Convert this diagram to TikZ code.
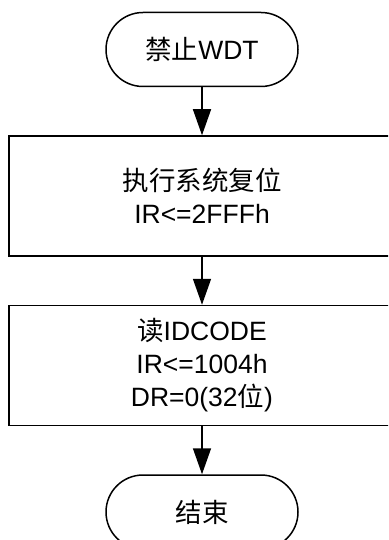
\documentclass[tikz,border=0pt]{standalone}
\usepackage{fontspec}
\setmainfont{Liberation Sans}
\newfontfamily\cjk{Noto Sans CJK SC}
\usepackage{tikz}
\usetikzlibrary{arrows.meta,positioning}

\begin{document}
\begin{tikzpicture}[
        x=1pt, y=1pt,
        node distance=48pt,
        terminal/.style={rectangle, draw, fill=white, rounded corners=37pt, minimum width=192pt, minimum height=74pt, line width=1.5pt, align=center, font=\fontsize{26.5}{33}\selectfont},
        process/.style={rectangle, draw, fill=white, minimum width=386pt, minimum height=120pt, line width=1.5pt, align=center, font=\fontsize{26.5}{33}\selectfont},
        arrow/.style={draw, -{Triangle[length=26pt,width=18pt]}, line width=1.5pt}
    ]
    \useasboundingbox (0,0) rectangle (388,-540);
    \clip (0,0) rectangle (388,-540);

    % Main vertical flow
    \node [terminal] (start) at (202,-49.5) {{\cjk 禁止}WDT};
    \node [process, below=of start] (reset) {{\cjk 执行系统复位}\\IR<=2FFFh};
    \node [process, below=of reset] (idcode) {{\cjk 读}IDCODE\\IR<=1004h\\DR=0(32{\cjk 位})};
    \node [terminal, below=of idcode] (stop) {{\cjk 结束}};

    % Connections
    \path [arrow] (start) -- (reset);
    \path [arrow] (reset) -- (idcode);
    \path [arrow] (idcode) -- (stop);

\end{tikzpicture}
\end{document}
